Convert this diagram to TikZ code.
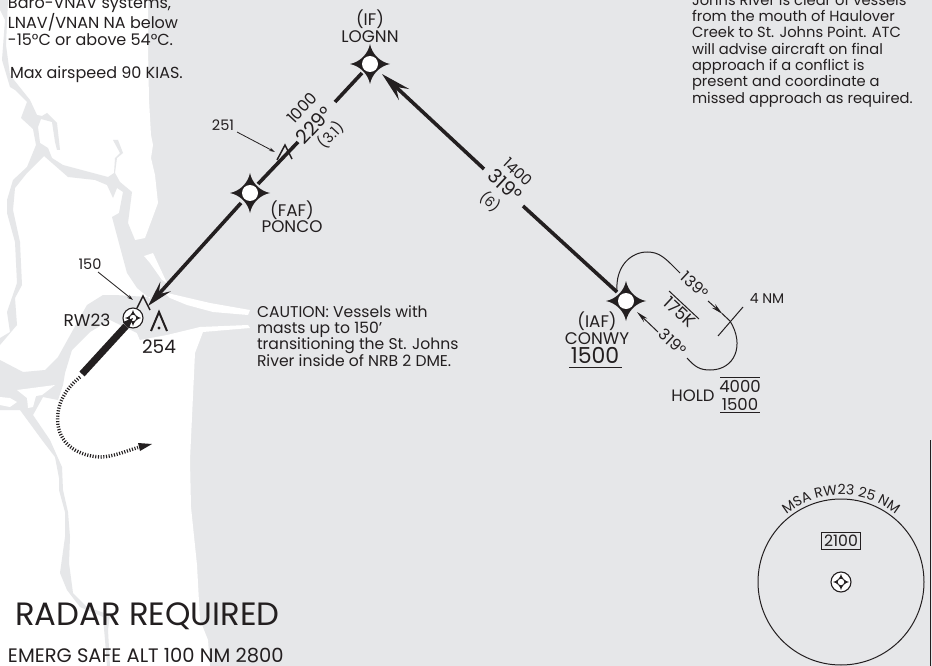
\documentclass[tikz,border=0pt]{standalone}
\usepackage{fontspec}
\setmainfont{Poppins}
\usetikzlibrary{arrows.meta,decorations.text}
\definecolor{sea}{HTML}{E6E7E9}
\definecolor{ink}{HTML}{231F20}
\newcommand{\fsz}[2]{\fontsize{#1}{#2}\selectfont}
\tikzset{
  x=1pt,y=-1pt,
  lbl/.style={inner sep=0pt,outer sep=0pt,text=ink,font=\fsz{14.5}{16}},
  blockt/.style={lbl,anchor=north west,align=left},
  bigd/.style={lbl,font=\fsz{19.5}{20}},
  fixname/.style={lbl,align=center,font=\fsz{16.8}{16.5}},
  fixpt/.style={circle,inner sep=0pt,minimum size=20pt},
  crs/.style={draw=ink,line width=3.6pt},
  thin line/.style={draw=ink,line width=1pt},
  obst/.style={draw=ink,line width=1.5pt,line join=miter},
  leader/.style={draw=ink,line width=0.8pt,-{Stealth[length=6pt,width=3.5pt]}},
  fixstar/.pic={
    \fill[ink] (20,0) .. controls (10,2) and (2,10) .. (0,20)
       .. controls (-2,10) and (-10,2) .. (-20,0)
       .. controls (-10,-2) and (-2,-10) .. (0,-20)
       .. controls (2,-10) and (10,-2) .. (20,0) -- cycle;
    \fill[white] (0,0) circle[radius=8];
  },
  navaid/.pic={
    \draw[ink,fill=white,line width=1.1pt] (0,0) circle[radius=10];
    \fill[ink] (8,0) .. controls (4,0.8) and (0.8,4) .. (0,8)
       .. controls (-0.8,4) and (-4,0.8) .. (-8,0)
       .. controls (-4,-0.8) and (-0.8,-4) .. (0,-8)
       .. controls (0.8,-4) and (4,-0.8) .. (8,0) -- cycle;
    \fill[white] (0,0) circle[radius=3.2];
  },
}
\begin{document}
\begin{tikzpicture}
\useasboundingbox (0,0) rectangle (932,666);
\fill[sea] (0,0) rectangle (932,666);
% land
\fill[white] (0,0) -- (148,0) -- (148,48) -- (149,100) -- (151,135) -- (153,145) -- (151,158) -- (155,175) -- (158,203) -- (145,238) -- (135,240) -- (150,298) -- (137,333) -- (140,340) -- (167,335) -- (200,327) -- (248,325) -- (250,328) -- (203,332) -- (195,353) -- (190,460) -- (191,507) -- (197,565) -- (200,620) -- (208,640) -- (210,666) -- (0,666) -- cycle;
% north river
\fill[sea] (0,0) -- (8,0) -- (6,45) -- (10,75) -- (22,90) -- (30,100) -- (37,115) -- (42,116) -- (47,113) -- (57,123) -- (60,150) -- (57,150) -- (55,142) -- (52,122) -- (41,119) -- (38,127) -- (40,143) -- (48,148) -- (52,158) -- (63,165) -- (108,177) -- (114,173) -- (115,158) -- (120,153) -- (113,140) -- (118,140) -- (123,153) -- (117,158) -- (115,173) -- (120,182) -- (132,192) -- (128,223) -- (135,240) -- (170,240) -- (170,292) -- (148,297) -- (137,288) -- (127,273) -- (120,247) -- (112,217) -- (119,213) -- (123,192) -- (117,188) -- (113,198) -- (107,185) -- (95,180) -- (68,177) -- (44,156) -- (27,173) -- (15,188) -- (13,210) -- (20,242) -- (22,285) -- (15,298) -- (17,325) -- (0,345) -- (0,338) -- (10,332) -- (7,312) -- (17,283) -- (15,242) -- (7,213) -- (7,200) -- (13,180) -- (27,167) -- (36,145) -- (33,129) -- (21,118) -- (27,102) -- (15,90) -- (10,87) -- (2,60) -- (5,20) -- (0,10) -- cycle;
% bay and south-west river
\fill[sea] (148,297) -- (115,295) -- (103,295) -- (87,305) -- (73,330) -- (58,357) -- (45,370) -- (23,372) -- (0,360) -- (0,410) -- (20,410) -- (42,440) -- (55,457) -- (59,478) -- (59,490) -- (65,512) -- (65,537) -- (60,573) -- (67,590) -- (80,607) -- (103,617) -- (105,640) -- (107,666) -- (110,666) -- (108,630) -- (110,615) -- (87,607) -- (73,593) -- (69,563) -- (70,537) -- (68,512) -- (63,490) -- (62,467) -- (50,440) -- (33,415) -- (43,397) -- (58,400) -- (63,385) -- (65,373) -- (72,350) -- (90,332) -- (110,320) -- (137,333) -- (140,340) -- (170,320) -- cycle;
% islands and spits
\fill[white] (144,256) -- (153,253) -- (167,283) -- (162,280) -- (150,263) -- cycle;
\fill[white] (163,292) -- (210,303) -- (250,310) -- (248,315) -- (213,312) -- (187,305) -- (170,298) -- cycle;
\fill[white] (17,390) -- (55,385) -- (42,395) -- (36,396) -- (33,407) -- (28,408) -- (27,398) -- cycle;
\fill[white] (0,397) -- (10,398) -- (17,402) -- (10,407) -- (0,405) -- cycle;
% right edge
\draw[ink,line width=1.2pt] (930.6,440) -- (930.6,666);

% fixes
\node[fixpt] (IF) at (370,64) {};
\node[fixpt] (FAF) at (250,193) {};
\node[fixpt] (IAF) at (626,301) {};
\node[fixpt,minimum size=10pt] (RW) at (133,318) {};
\pic at (IF) {fixstar};
\pic at (FAF) {fixstar};
\pic at (IAF) {fixstar};

% named course break points
\coordinate (a1) at (362,73);
\coordinate (a2) at (335,102);
\coordinate (a3) at (298,142);
\coordinate (a4) at (258,184);
\coordinate (a5) at (241,203);
\coordinate (a6) at (148,306);
\coordinate (b1) at (382,74);
\coordinate (b2) at (484,169);
\coordinate (b3) at (523,206);
\coordinate (b4) at (617,292);
\draw[crs] (a1) -- (a2);
\draw[crs] (a3) -- (a4);
\draw[crs,-{Stealth[length=26pt,width=14pt,inset=10pt]}] (a5) -- (a6);
\draw[crs,{Stealth[length=30pt,width=15pt,inset=11pt]}-] (b1) -- (b2);
\draw[crs] (b3) -- (b4);

% runway and missed approach
\coordinate (r1) at (82,374);
\pic at (RW) {navaid};
\draw[ink,line width=7pt] (126,326) -- (r1);
\fill[ink] (133,318) -- (123,322) -- (129,328) -- cycle;
\coordinate (m1) at (80,377);
\coordinate (m2) at (138,447.5);
\draw[ink,line width=3.4pt,dash pattern=on 1.1pt off 1.6pt] (m1) .. controls (62,392) and (56,408) .. (58,425) .. controls (61,446) and (80,456) .. (100,457) .. controls (113,457) and (126,451) .. (m2);
\fill[ink] (152,444) -- (138,443) -- (140,451) -- cycle;

% obstacles
\draw[obst] (277,160) -- (285,145) -- (292,159);
\draw[obst] (137,308) -- (143,296) -- (150,310);
\draw[obst,line width=2pt] (151,331) -- (159,312) -- (167,331);
\fill[ink] (159,328) circle[radius=1.6];
\coordinate (o251) at (275,152);
\coordinate (o150) at (133,300);
\node[lbl] (t251) at (223,125) {251};
\node[lbl] (t150) at (90,264) {150};
\draw[leader] (237,132) -- (o251);
\draw[leader] (98,272) -- (o150);

% holding pattern
\coordinate (h1) at (617,292);
\coordinate (h2) at (680,273);
\coordinate (h3) at (708,301);
\coordinate (h4) at (730,321);
\coordinate (h5) at (687,358);
\coordinate (h6) at (658,332);
\coordinate (h7) at (637,312);
\draw[thin line] (h1) .. controls (615,265) and (632,252) .. (647,252) .. controls (660,252) and (665,258) .. (h2);
\draw[thin line,-{Stealth[length=12pt,width=5pt]}] (h3) -- (722.5,314);
\draw[thin line] (722,313.5) -- (h4) .. controls (745,345) and (735,370) .. (710,370) .. controls (700,370) and (695,367) .. (h5);
\draw[thin line,-{Stealth[length=12pt,width=5pt]}] (h6) -- (h7);
\draw[thin line] (743,307) -- (718,336);
\draw[thin line] (669,291) -- (699,319);

% text: fixes
\node[fixname] (tIF) at (370,26) {(IF)\\LOGNN};
\node[fixname] (tFAF) at (292,216.5) {(FAF)\\PONCO};
\node[fixname] (tIAF) at (597,328) {(IAF)\\CONWY};
\node[lbl,font=\fsz{22}{24}] (t1500) at (595,355.5) {1500};
\draw[thin line] (569,367) -- (622,367);
\node[lbl,font=\fsz{17}{18}] (tRW) at (87,320) {RW23};
\node[bigd,font=\fsz{18.5}{20}] (t254) at (159,347) {254};
\node[lbl,font=\fsz{14}{14}] at (767,298) {4 NM};
\node[lbl,font=\fsz{16.5}{18}] at (693,396) {HOLD};
\node[lbl,font=\fsz{16.5}{18}] at (740,386) {4000};
\node[lbl,font=\fsz{16.5}{18}] at (740,404) {1500};
\draw[thin line] (720,377) -- (760,377);
\draw[thin line] (720,412) -- (760,412);

% rotated course labels
\node[lbl,rotate=47,font=\fsz{16}{16}] at (302,108) {1000};
\node[bigd,rotate=47] at (314,125) {229°};
\node[lbl,rotate=47,font=\fsz{14.5}{14}] at (331,135) {(3.1)};
\node[lbl,rotate=-43,font=\fsz{15}{16}] at (518,172) {1400};
\node[bigd,rotate=-43] at (505,185) {319°};
\node[lbl,rotate=-43,font=\fsz{14}{14}] at (490,202) {(6)};
\node[lbl,rotate=-43,font=\fsz{15.7}{16}] at (695,285) {139°};
\node[lbl,rotate=-43,font=\fsz{15.7}{16}] at (673,342) {319°};
\node[lbl,rotate=-43,font=\fsz{17}{18}] at (680,312) {175K};

% text blocks
\node[blockt,font=\fsz{16}{16.5}] at (8,-2.6) {Baro-VNAV systems,\\LNAV/VNAN NA below\\-15°C or above 54°C.};
\node[blockt,font=\fsz{16}{16.5}] at (10,66) {Max airspeed 90 KIAS.};
\node[blockt,font=\fsz{14.7}{16.35}] at (692,-6) {Johns River is clear of vessels\\from the mouth of Haulover\\Creek to St. Johns Point. ATC\\will advise aircraft on final\\approach if a conflict is\\present and coordinate a\\missed approach as required.};
\node[blockt,font=\fsz{15.6}{16}] at (257,305.6) {CAUTION: Vessels with\\masts up to 150'\\transitioning the St. Johns\\River inside of NRB 2 DME.};
\node[lbl,anchor=west,font=\fsz{32.3}{34}] at (15,616) {RADAR REQUIRED};
\node[lbl,anchor=west,font=\fsz{19.5}{22}] at (8,656) {EMERG SAFE ALT 100 NM 2800};

% MSA circle
\node[draw=ink,circle,line width=1pt,minimum size=166pt,inner sep=0pt] (msa) at (841,582) {};
\pic at (msa.center) {navaid};
\node[draw=ink,line width=0.8pt,minimum width=39pt,minimum height=17pt,inner sep=0pt,lbl,font=\fsz{15.7}{16}] (msalt) at (841,541) {2100};
\path[decorate,decoration={text along path,text align=center,text={|\fsz{14}{16}\color{ink}|MSA RW23 25 NM}}] (783.9,516.3) .. controls (816.6,487.8) and (865.4,487.8) .. (898.1,516.3);
\end{tikzpicture}
\end{document}
